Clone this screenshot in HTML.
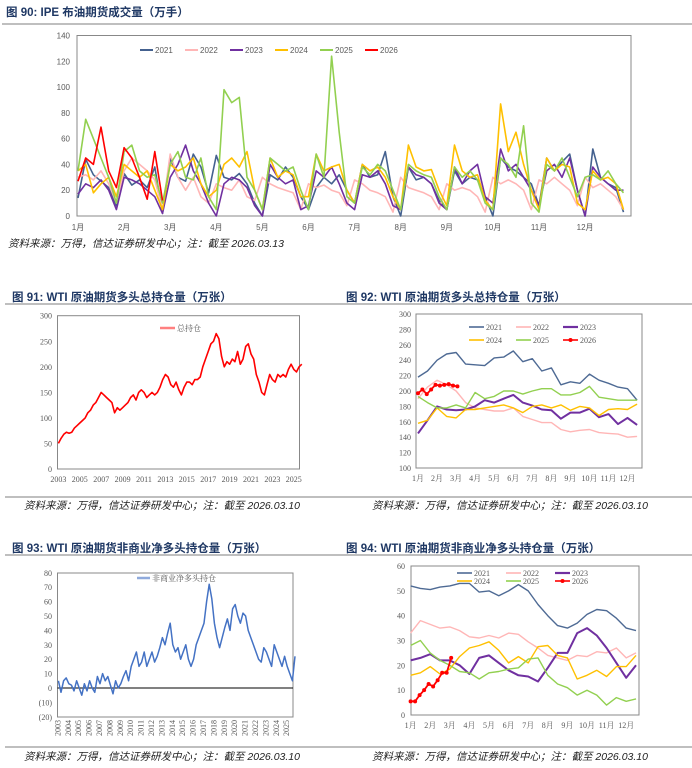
<!DOCTYPE html>
<html><head><meta charset="utf-8"><style>
html,body{margin:0;padding:0;background:#fff;}
svg{display:block;font-family:"Liberation Sans","Noto Sans CJK SC",sans-serif;}
.t{font-weight:bold;font-size:11.5px;fill:#1f3864;}
.f{font-style:italic;font-size:10.5px;fill:#222;}
.ax{font-size:8px;fill:#595959;}
.sx{font-family:"Liberation Serif","Noto Serif CJK SC",serif;font-size:8px;fill:#595959;}
</style></head><body>
<svg id="page" width="692" height="768" viewBox="0 0 692 768" xmlns="http://www.w3.org/2000/svg">
<text class="t" x="6" y="16">图 90:  IPE 布油期货成交量（万手）</text>
<line x1="2" y1="24" x2="692" y2="24" stroke="#555" stroke-width="0.8"/>
<rect x="77" y="35.5" width="554" height="180.5" fill="none" stroke="#888"/>
<text class="f" x="8" y="247">资料来源：万得，信达证券研发中心；注：截至 2026.03.13</text>

<text class="t" x="12" y="301">图 91:  WTI 原油期货多头总持仓量（万张）</text>
<text class="t" x="346" y="301">图 92:  WTI 原油期货多头总持仓量（万张）</text>
<line x1="5" y1="304" x2="692" y2="304" stroke="#555" stroke-width="0.8"/>
<rect x="57.5" y="315.7" width="242" height="153.3" fill="none" stroke="#888"/>
<rect x="416" y="314" width="226" height="154" fill="none" stroke="#888"/>
<line x1="5" y1="497" x2="692" y2="497" stroke="#555" stroke-width="0.8"/>
<text class="f" x="24" y="509">资料来源：万得，信达证券研发中心；注：截至 2026.03.10</text>
<text class="f" x="372" y="509">资料来源：万得，信达证券研发中心；注：截至 2026.03.10</text>

<text class="t" x="12" y="552">图 93:  WTI 原油期货非商业净多头持仓量（万张）</text>
<text class="t" x="346" y="552">图 94:  WTI 原油期货非商业净多头持仓量（万张）</text>
<line x1="5" y1="555" x2="692" y2="555" stroke="#555" stroke-width="0.8"/>
<rect x="57.5" y="573" width="235.5" height="144" fill="none" stroke="#888"/>
<rect x="411" y="566" width="228" height="149" fill="none" stroke="#888"/>
<line x1="5" y1="747" x2="692" y2="747" stroke="#555" stroke-width="0.8"/>
<text class="f" x="24" y="760">资料来源：万得，信达证券研发中心；注：截至 2026.03.10</text>
<text class="f" x="372" y="760">资料来源：万得，信达证券研发中心；注：截至 2026.03.10</text>
<g id="marks"></g>
</svg>
<script>
// ---- chart 90 data (6 samples per month) ----
const c90Years = ["2021","2022","2023","2024","2025","2026"];
const c90Colors = ["#44618f","#ffb6b6","#7030a0","#ffc000","#92d050","#ff0000"];
const c90Ticks = [0,20,40,60,80,100,120,140];
const c90Months = ["1月","2月","3月","4月","5月","6月","7月","8月","9月","10月","11月","12月"];
const c90_2021 = [14,44,32,27,22,8, 33,24,28,22,38,2, 45,30,27,48,38,18, 47,30,28,33,25,10, 0,32,28,38,30,15, 5,22,30,25,32,20, 10,40,30,32,50,15, 0,38,28,30,25,12, 5,35,25,30,28,15, 0,45,38,35,30,25, 8,45,35,42,48,20, 0,52,30,25,22,3];
const c90_2022 = [30,32,28,35,25,10, 35,45,40,35,28,5, 48,30,20,30,15,10, 25,22,20,28,15,12, 30,25,22,20,18,5, 25,22,24,20,18,8, 28,25,20,18,15,3, 30,22,20,18,15,5, 25,20,22,20,15,3, 30,25,28,25,20,5, 28,25,30,25,20,8, 30,22,25,20,15,5];
const c90_2023 = [17,25,22,28,20,5, 30,28,25,20,15,2, 30,40,55,35,25,10, 0,25,30,28,22,8, 0,40,30,25,28,5, 8,35,30,38,25,10, 5,32,30,35,25,8, 5,38,32,30,25,10, 5,38,25,35,40,15, 10,52,35,40,30,20, 8,35,40,30,45,20, 0,38,30,25,20,20];
const c90_2024 = [35,40,18,25,30,15, 40,35,30,35,20,5, 40,35,38,45,25,15, 20,40,45,38,50,20, 5,45,30,35,32,15, 15,48,35,38,40,20, 10,40,35,38,30,15, 5,55,38,35,36,20, 8,55,35,30,32,12, 5,87,50,65,40,20, 5,45,35,40,38,10, 5,35,28,30,25,5];
const c90_2025 = [35,75,60,45,30,10, 50,55,35,30,32,10, 40,50,30,28,45,15, 5,98,88,92,30,20, 5,45,40,35,38,20, 5,48,30,124,65,15, 10,38,32,40,35,20, 5,40,35,32,30,15, 5,38,30,35,28,10, 5,45,40,30,70,10, 3,40,35,45,30,15, 30,32,28,35,25,18];
const c90_2026 = [27,45,40,69,35,22, 53,45,30,13,50,12];
// ---- chart 91 data (quarterly from 2003) ----
const c91Values = [50,60,68,72, 70,72,80,85, 90,95,100,110, 115,125,130,140, 150,145,140,135, 130,110,120,115, 120,125,130,140, 145,135,150,155, 150,140,145,150, 145,150,160,175, 185,180,165,160, 170,155,145,160, 170,170,165,175, 175,180,200,215, 230,245,250,265, 255,220,200,210, 205,215,210,230, 205,215,240,245, 225,215,185,170, 150,145,165,185, 175,170,185,180, 185,180,195,205, 195,190,200,205];
const c91Ticks = [0,50,100,150,200,250,300];
const c91XLabels = [2003,2005,2007,2009,2011,2013,2015,2017,2019,2021,2023,2025];
// ---- chart 92 data (half-month samples) ----
const c92Ticks = [100,120,140,160,180,200,220,240,260,280,300];
const c92_2021 = [218,226,240,248,250,235,234,233,243,244,252,238,242,226,230,208,212,210,222,214,210,205,203,188];
const c92_2022 = [190,205,214,208,200,185,178,176,174,174,178,167,163,159,159,150,147,149,150,146,145,144,140,141];
const c92_2023 = [145,162,180,176,175,176,180,188,185,190,195,185,181,176,175,164,172,172,177,166,170,157,165,156];
const c92_2024 = [158,162,178,167,165,176,176,178,180,182,178,172,180,182,178,182,175,180,178,168,176,177,176,183];
const c92_2025 = [193,185,178,178,182,178,198,190,193,200,200,196,200,203,203,195,195,198,206,192,190,188,188,188];
const c92_2026 = [197,202,196,202,208,207,208,209,207,206];
// ---- chart 93 data (quarterly from 2003) ----
const c93Values = [5,-3,5,7, 3,2,-2,5, 0,-5,3,-2, 5,0,-3,8, 3,10,5,8, 2,-4,5,0, 3,8,12,5, 15,20,25,15, 18,25,15,20, 25,18,22,28, 35,30,38,45, 30,25,28,20, 25,30,20,15, 20,30,35,40, 45,60,72,62, 45,35,28,35, 42,48,40,55, 58,50,45,52, 50,40,35,30, 25,20,18,28, 25,20,15,30, 25,20,15,22, 15,10,5,22];
const c93Ticks = [-20,-10,0,10,20,30,40,50,60,70,80];
// ---- chart 94 data (half-month samples) ----
const c94Ticks = [0,10,20,30,40,50,60];
const c94_2021 = [52,51,50.5,51.5,52,53,53,49.5,50,48,50,52.5,50,44.5,40,36,35,37,40.5,42.5,42,39,35,34];
const c94_2022 = [33,38,36.5,35,35.5,34,31.5,31,32,31,33,32.5,29.5,27,24,23,22,24,23.5,25.5,25,27,23,25];
const c94_2023 = [22,23,24.5,22,22,20,16.5,23,24,21,18,16,15.5,13.5,19,25,25,33,35,32,27,21,15,20];
const c94_2024 = [16,17,19.5,16.5,18.5,23.5,27,28,29.5,26,21,23.5,21,27.5,28,24,23,14.5,16,18,15.5,19.5,19.5,24];
const c94_2025 = [28,30,25,22,20,17.5,17,14.5,17,17.5,18.5,19,22.5,23,16,12.5,11,8,10,8,4,7,5.5,6.5];
const c94_2026 = [5.5,5.5,8,10,12.5,11.5,14,17,17,23];

const NS = "http://www.w3.org/2000/svg";
const G = document.getElementById("marks");
function mk(tag, attrs, name) {
  const el = document.createElementNS(NS, tag);
  for (const k in attrs) el.setAttribute(k, attrs[k]);
  
  
  G.appendChild(el);
  return el;
}
function txt(x, y, s, cls, anchor, name, fill) {
  const el = mk("text", {x: x, y: y, class: cls, "text-anchor": anchor || "start"}, name);
  if (fill) el.setAttribute("fill", fill);
  el.textContent = s;
  return el;
}
function poly(vals, fx, fy, step, start, color, w, name) {
  const pts = vals.map((v, i) => fx(start + i * step).toFixed(1) + "," + fy(v).toFixed(1)).join(" ");
  return mk("polyline", {points: pts, fill: "none", stroke: color, "stroke-width": w, "stroke-linejoin": "round"}, name);
}

// chart 90 scales
const x90 = m => 78 + m * 46.1;
const y90 = v => 216 - v * 1.289;
c90Ticks.forEach(t => txt(70, y90(t) + 3, String(t), "ax", "end", "chart90-y-tick-label"));
c90Months.forEach((s, i) => txt(x90(i), 230, s, "ax", "middle", "chart90-x-tick-label"));
const c90Series = [c90_2021, c90_2022, c90_2023, c90_2024, c90_2025, c90_2026];
c90Series.forEach((arr, k) => poly(arr, x90, y90, 1/6, 0, c90Colors[k], 1.6, "chart90-line-" + c90Years[k]));
c90Years.forEach((yr, k) => {
  const lx = 140 + k * 45;
  mk("line", {x1: lx, y1: 50, x2: lx + 13, y2: 50, stroke: c90Colors[k], "stroke-width": 2}, "chart90-legend-swatch");
  txt(lx + 15, 53, yr, "ax", "start", "chart90-legend-label");
});

// chart 91
const x91 = yr => 58.4 + (yr - 2003) * 10.7;
const y91 = v => 469 - v * 0.511;
c91Ticks.forEach(t => txt(52, y91(t) + 3, String(t), "sx", "end", "chart91-y-tick-label"));
c91XLabels.forEach(yr => txt(x91(yr), 482, String(yr), "sx", "middle", "chart91-x-tick-label"));
poly(c91Values, x91, y91, 0.25, 2003, "#ff0000", 1.6, "chart91-line-total-position");
mk("line", {x1: 160, y1: 328, x2: 175, y2: 328, stroke: "#ff8080", "stroke-width": 2.5}, "chart91-legend-swatch");
txt(177, 331, "总持仓", "sx", "start", "chart91-legend-label", "#ff8080");

// chart 92
const x92 = m => 418 + m * 19.05;
const y92 = v => 468 - (v - 100) * 0.77;
c92Ticks.forEach(t => txt(411, y92(t) + 3, String(t), "sx", "end", "chart92-y-tick-label"));
c90Months.forEach((s, i) => txt(x92(i), 481, s, "sx", "middle", "chart92-x-tick-label"));
const c92Series = [c92_2021, c92_2022, c92_2023, c92_2024, c92_2025];
const c92Colors = ["#4e6a94","#ffb6b6","#7030a0","#ffc000","#92d050"];
c92Series.forEach((arr, k) => poly(arr, x92, y92, 0.5, 0, c92Colors[k], k === 2 ? 2 : 1.4, "chart92-line-" + c90Years[k]));
poly(c92_2026, x92, y92, 0.23, 0, "#ff0000", 1.8, "chart92-line-2026");
c92_2026.forEach((v, i) => mk("circle", {cx: x92(i * 0.23), cy: y92(v), r: 2, fill: "#ff0000"}, "chart92-point-2026"));
c90Years.forEach((yr, k) => {
  const lx = 469 + (k % 3) * 47, ly = k < 3 ? 327 : 340;
  mk("line", {x1: lx, y1: ly, x2: lx + 15, y2: ly, stroke: k < 5 ? c92Colors[k] : "#ff0000", "stroke-width": k === 2 ? 2.2 : 1.6}, "chart92-legend-swatch");
  if (k === 5) mk("circle", {cx: lx + 7.5, cy: ly, r: 2, fill: "#ff0000"}, "chart92-legend-marker");
  txt(lx + 17, ly + 3, yr, "sx", "start", "chart92-legend-label");
});

// chart 93
const x93 = yr => 58.4 + (yr - 2003) * 10.4;
const y93 = v => 688 - v * 1.44;
c93Ticks.forEach(t => txt(52, y93(t) + 3, t < 0 ? "(" + (-t) + ")" : String(t), "sx", "end", "chart93-y-tick-label", t < 0 ? "#ff0000" : null));
mk("line", {x1: 57.5, y1: y93(0), x2: 293, y2: y93(0), stroke: "#000", "stroke-width": 1}, "chart93-zero-line");
for (let yr = 2003; yr <= 2025; yr++) {
  const t = txt(0, 0, String(yr), "sx", "end", "chart93-x-tick-label");
  t.setAttribute("font-size", "6");
  t.setAttribute("transform", "translate(" + (x93(yr) + 2) + ",720) rotate(-90)");
}
poly(c93Values, x93, y93, 0.25, 2003, "#4472c4", 1.5, "chart93-line-net-long");
mk("line", {x1: 137, y1: 578, x2: 150, y2: 578, stroke: "#8faadc", "stroke-width": 2.5}, "chart93-legend-swatch");
txt(152, 581, "非商业净多头持仓", "sx", "start", "chart93-legend-label", "#8faadc");

// chart 94
const x94 = m => 410.6 + m * 19.6;
const y94 = v => 715 - v * 2.483;
c94Ticks.forEach(t => txt(405, y94(t) + 3, String(t), "sx", "end", "chart94-y-tick-label"));
c90Months.forEach((s, i) => txt(x94(i), 728, s, "sx", "middle", "chart94-x-tick-label"));
const c94Series = [c94_2021, c94_2022, c94_2023, c94_2024, c94_2025];
c94Series.forEach((arr, k) => poly(arr, x94, y94, 0.5, 0, c92Colors[k], k === 2 ? 2 : 1.4, "chart94-line-" + c90Years[k]));
poly(c94_2026, x94, y94, 0.23, 0, "#ff0000", 1.8, "chart94-line-2026");
c94_2026.forEach((v, i) => mk("circle", {cx: x94(i * 0.23), cy: y94(v), r: 2, fill: "#ff0000"}, "chart94-point-2026"));
c90Years.forEach((yr, k) => {
  const lx = 457 + (k % 3) * 49, ly = k < 3 ? 573 : 581;
  mk("line", {x1: lx, y1: ly, x2: lx + 15, y2: ly, stroke: k < 5 ? c92Colors[k] : "#ff0000", "stroke-width": k === 2 ? 2.2 : 1.6}, "chart94-legend-swatch");
  if (k === 5) mk("circle", {cx: lx + 7.5, cy: ly, r: 2, fill: "#ff0000"}, "chart94-legend-marker");
  txt(lx + 17, ly + 3, yr, "sx", "start", "chart94-legend-label");
});
</script>
</body></html>
